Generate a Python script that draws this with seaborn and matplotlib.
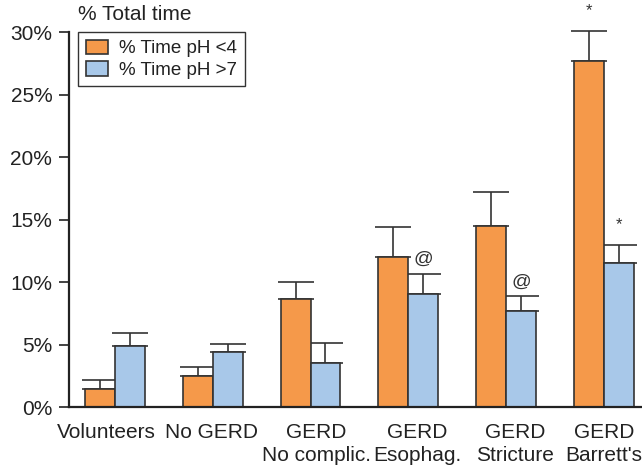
import numpy as np
import pandas as pd
import seaborn as sns
import matplotlib.pyplot as plt
from matplotlib.transforms import ScaledTranslation

# values (percent of total time)
groups = ["Volunteers", "No GERD", "GERD\nNo complic.", "GERD\nEsophag.",
          "GERD\nStricture", "GERD\nBarrett's"]
series = ["% Time pH <4", "% Time pH >7"]
acid_mean = [1.5, 2.5, 8.7, 12.0, 14.5, 27.7]
acid_err = [0.7, 0.75, 1.3, 2.4, 2.7, 2.4]
alk_mean = [4.9, 4.45, 3.55, 9.1, 7.7, 11.55]
alk_err = [1.05, 0.65, 1.6, 1.6, 1.2, 1.45]
acid_marks = ["", "", "", "", "", "*"]
alk_marks = ["", "", "", "@", "@", "*"]
yticks = [0, 5, 10, 15, 20, 25, 30]

colors = ["#F5994A", "#A8C8E9"]
edge = "#333333"
text_col = "#222222"

df = pd.DataFrame({
    "group": groups * 2,
    "series": [series[0]] * len(groups) + [series[1]] * len(groups),
    "value": acid_mean + alk_mean,
})

sns.set_theme(style="ticks")
plt.rcParams['font.family'] = ['Liberation Sans', 'DejaVu Sans']

fig = plt.figure(figsize=(6.42, 4.68), dpi=100)
ax = fig.add_axes([0.1075, 0.1297, 1.0 - 0.1075, 0.931 - 0.1297])

sns.barplot(data=df, x="group", y="value", hue="series", palette=colors,
            width=0.61, edgecolor=edge, linewidth=1.2, saturation=1,
            errorbar=None, ax=ax)

# error bars (upper only) and significance marks, placed on the drawn bars
n = len(groups)
bars = ax.patches[:2 * n]
for k, (means, errs, marks) in enumerate([(acid_mean, acid_err, acid_marks),
                                           (alk_mean, alk_err, alk_marks)]):
    xs = [b.get_x() + b.get_width() / 2 for b in bars[k * n:(k + 1) * n]]
    ax.errorbar(xs, means, yerr=[np.zeros(n), errs], fmt='none', ecolor=edge,
                elinewidth=1.2, capsize=13, capthick=1.2, zorder=0.5, clip_on=False)
    for x, m, e, s in zip(xs, means, errs, marks):
        if not s:
            continue
        if s == "*":
            ax.text(x, m + e + 1.6, s, ha='center', va='center', fontsize=12,
                    color=edge, clip_on=False)
        else:
            ax.text(x, m + e + 1.1, s, ha='center', va='center', fontsize=14,
                    color=edge, clip_on=False)

ax.set_xlim(-0.47, 5.39)
ax.set_ylim(0, 30)
ax.set_yticks(yticks)
ax.set_yticklabels([f"{v}%" for v in yticks], fontsize=15, color=text_col)
ax.set_xticklabels(groups, fontsize=15, color=text_col, linespacing=1.32)
ax.tick_params(axis='x', length=0, pad=11)
ax.tick_params(axis='y', length=7, width=1.2, color=text_col, pad=5)
ax.set_xlabel("")
ax.set_ylabel("")
sns.despine(ax=ax)
for side in ["left", "bottom"]:
    ax.spines[side].set_linewidth(1.6)
    ax.spines[side].set_color(text_col)

# small horizontal nudges of the category labels, as in the original layout
nudges = [-9, -1, 6, 9, 9, 0]
for lab, dx in zip(ax.get_xticklabels(), nudges):
    lab.set_transform(lab.get_transform() + ScaledTranslation(dx / 100, 0, fig.dpi_scale_trans))

leg = ax.legend(loc='upper left', bbox_to_anchor=(0.016, 1.0), borderaxespad=0,
                fontsize=13.5, frameon=True, fancybox=False, framealpha=1,
                edgecolor="#333333", handlelength=1.2, handleheight=0.8,
                handletextpad=0.6, labelspacing=0.2, borderpad=0.4)
leg.get_frame().set_linewidth(1.0)
for t in leg.get_texts():
    t.set_color(text_col)

fig.text(78 / 642, 1 - 15 / 468, "% Total time", ha='left', va='center',
         fontsize=15, color=text_col)

fig.savefig("out.png", dpi=100)
